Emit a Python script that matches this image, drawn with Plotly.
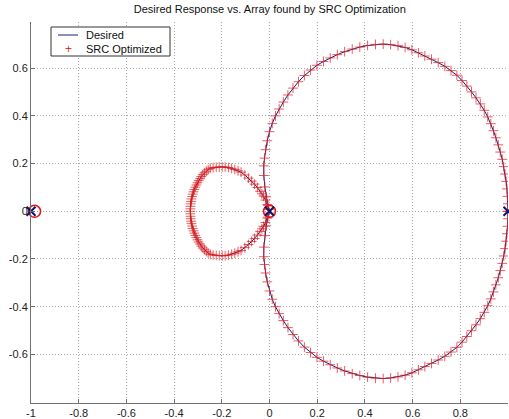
import numpy as np
import plotly.graph_objects as go

angle_step_deg = 1.8
radius = [
    1.000, 1.000, 1.000, 1.000, 1.000, 1.000, 1.000, 1.000, 0.999, 0.999,
    0.998, 0.998, 0.998, 0.997, 0.995, 0.992, 0.988, 0.984, 0.980, 0.976,
    0.971, 0.963, 0.954, 0.943, 0.932, 0.921, 0.912, 0.903, 0.892, 0.879,
    0.864, 0.848, 0.829, 0.808, 0.786, 0.764, 0.740, 0.716, 0.692, 0.668,
    0.644, 0.617, 0.588, 0.557, 0.526, 0.494, 0.462, 0.431, 0.401, 0.369,
    0.334, 0.296, 0.259, 0.224, 0.192, 0.152, 0.104, 0.062, 0.025, 0.008,
    0.030, 0.050, 0.068, 0.080, 0.093, 0.112, 0.130, 0.147, 0.165, 0.184,
    0.203, 0.215, 0.228, 0.240, 0.252, 0.263, 0.272, 0.281, 0.290, 0.299,
    0.307, 0.311, 0.314, 0.317, 0.319, 0.321, 0.322, 0.324, 0.325, 0.326,
    0.327, 0.328, 0.329, 0.330, 0.330, 0.331, 0.331, 0.332, 0.332, 0.332,
    0.332,
    0.332, 0.332, 0.332, 0.331, 0.331, 0.330, 0.330, 0.329, 0.328, 0.327,
    0.326, 0.325, 0.324, 0.322, 0.321, 0.319, 0.317, 0.314, 0.311, 0.307,
    0.299, 0.290, 0.281, 0.272, 0.263, 0.252, 0.240, 0.228, 0.215, 0.203,
    0.184, 0.165, 0.147, 0.130, 0.112, 0.093, 0.080, 0.068, 0.050, 0.030,
    0.008, 0.025, 0.062, 0.104, 0.152, 0.192, 0.224, 0.259, 0.296, 0.334,
    0.369, 0.401, 0.431, 0.462, 0.494, 0.526, 0.557, 0.588, 0.617, 0.644,
    0.668, 0.692, 0.716, 0.740, 0.764, 0.786, 0.808, 0.829, 0.848, 0.864,
    0.879, 0.892, 0.903, 0.912, 0.921, 0.932, 0.943, 0.954, 0.963, 0.971,
    0.976, 0.980, 0.984, 0.988, 0.992, 0.995, 0.997, 0.998, 0.998, 0.998,
    0.999, 0.999, 1.000, 1.000, 1.000, 1.000, 1.000, 1.000, 1.000,
]

# Zeros: desired (blue x) and SRC optimized (red o)
desired_zeros_x = [-1.0, 0.0, 1.0]
desired_zeros_y = [0.0, 0.0, 0.0]
src_zeros_x = [-0.985, 0.0]
src_zeros_y = [0.0, 0.0]

x_ticks = [-1, -0.8, -0.6, -0.4, -0.2, 0, 0.2, 0.4, 0.6, 0.8, 1]
y_ticks = [-0.6, -0.4, -0.2, 0, 0.2, 0.4, 0.6]

legend_labels = ["Desired", "SRC Optimized"]

LINE_COLOR = "#1c1c80"
MARK_COLOR = "rgba(225,30,30,0.72)"
FONT = "Liberation Sans, Arial"

r = np.array(radius + [radius[0]])
theta = np.deg2rad(np.arange(len(r)) * angle_step_deg)
cx = r * np.cos(theta)
cy = r * np.sin(theta)

fig = go.Figure()
fig.add_trace(go.Scatter(x=cx, y=cy, mode="lines", name=legend_labels[0],
                         showlegend=False, line=dict(color=LINE_COLOR, width=1)))
fig.add_trace(go.Scatter(x=cx, y=cy, mode="markers", name=legend_labels[1],
                         showlegend=False,
                         marker=dict(symbol="cross-thin", size=7, color=MARK_COLOR,
                                     line=dict(width=1, color=MARK_COLOR))))
fig.add_trace(go.Scatter(x=src_zeros_x, y=src_zeros_y, mode="markers", showlegend=False,
                         cliponaxis=False,
                         marker=dict(symbol="circle-open", size=12, color="#e01818",
                                     line=dict(width=1.6, color="#e01818"))))
fig.add_trace(go.Scatter(x=desired_zeros_x, y=desired_zeros_y, mode="markers", showlegend=False,
                         cliponaxis=False,
                         marker=dict(symbol="x-thin", size=9, color="#101070",
                                     line=dict(width=2, color="#101070"))))

axis_common = dict(
    showgrid=True, gridcolor="#a8a8a8", griddash="1px,2px", gridwidth=1,
    zeroline=False, showline=True, linecolor="#707070", linewidth=1,
    ticks="inside", ticklen=4, tickcolor="#707070",
    tickfont=dict(family=FONT, size=11, color="#222222"),
)

# plot-area geometry in pixels (for the hand-drawn legend box)
W, H = 509, 419
ML, MR, MT, MB = 31, 1, 22, 16
PW, PH = W - ML - MR, H - MT - MB


def px(xpix):
    return (xpix - ML) / PW


def py(ypix):
    return (H - MB - ypix) / PH


shapes = [
    dict(type="rect", xref="paper", yref="paper", x0=px(51), x1=px(170), y0=py(56), y1=py(27),
         line=dict(color="#333333", width=1), fillcolor="white", layer="above"),
    dict(type="line", xref="paper", yref="paper", x0=px(58), x1=px(78), y0=py(35), y1=py(35),
         line=dict(color=LINE_COLOR, width=1), layer="above"),
]
annotations = [
    dict(text=legend_labels[0], xref="paper", yref="paper", x=px(84), y=py(35),
         xanchor="left", yanchor="middle", showarrow=False,
         font=dict(family=FONT, size=11, color="#111111")),
    dict(text=legend_labels[1], xref="paper", yref="paper", x=px(84), y=py(49),
         xanchor="left", yanchor="middle", showarrow=False,
         font=dict(family=FONT, size=11, color="#111111")),
    dict(text="+", xref="paper", yref="paper", x=px(68), y=py(49),
         xanchor="center", yanchor="middle", showarrow=False,
         font=dict(family=FONT, size=12, color="#e03030")),
]

fig.update_layout(
    width=W, height=H,
    margin=dict(l=ML, r=MR, t=MT, b=MB),
    paper_bgcolor="white", plot_bgcolor="white",
    title=dict(text="Desired Response vs. Array found by SRC Optimization",
               x=0.53, xanchor="center", y=0.978, yanchor="middle",
               font=dict(family=FONT, size=11, color="#111111")),
    xaxis=dict(range=[-1, 1], tickvals=x_ticks, ticktext=[f"{v:g}" for v in x_ticks],
               automargin=False, **axis_common),
    yaxis=dict(range=[-0.804, 0.794], tickvals=y_ticks, ticktext=[f"{v:g}" for v in y_ticks],
               automargin=False, **axis_common),
    shapes=shapes,
    annotations=annotations,
    showlegend=False,
    hovermode=False,
)

fig.write_html("out.html", config={"displayModeBar": False, "staticPlot": True})

# remove the default page margin so the figure sits at the window's top-left corner
with open("out.html", "r", encoding="utf-8") as f:
    html = f.read()
html = html.replace("<head>", "<head><style>html,body{margin:0;padding:0;overflow:hidden;}</style>", 1)
with open("out.html", "w", encoding="utf-8") as f:
    f.write(html)
